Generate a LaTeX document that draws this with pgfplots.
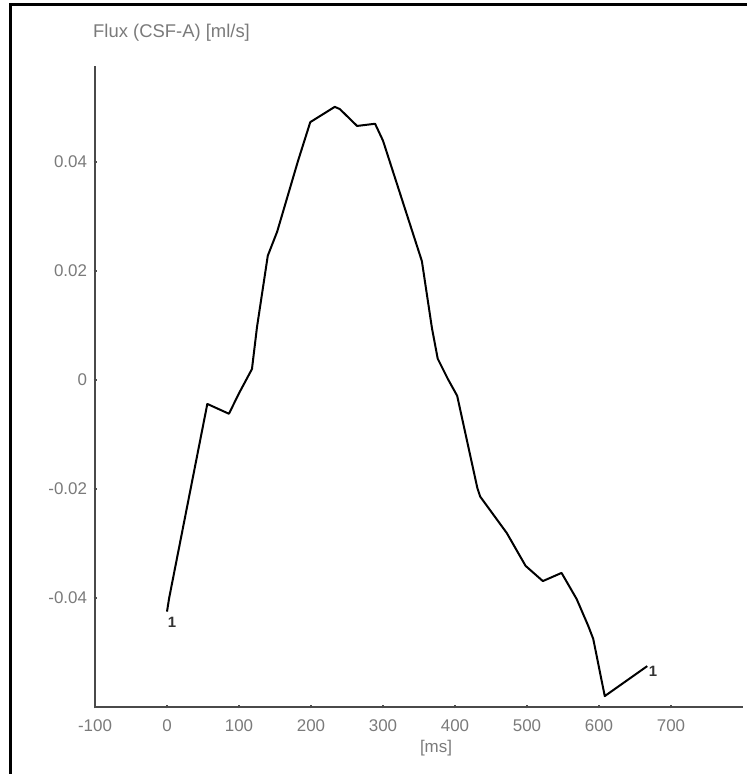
\documentclass[border=0pt]{standalone}
\usepackage{pgfplots}
\pgfplotsset{compat=1.18}
\usepackage{fontspec}
\setmainfont{Liberation Sans}
\definecolor{txtgray}{HTML}{7A7A7A}
\definecolor{axgray}{HTML}{4A4A4A}

\pgfplotstableread{
x y
0 -0.0425
3 -0.0400
56 -0.0044
86 -0.0062
101 -0.0022
118 0.0020
125 0.0097
140 0.0228
153 0.0272
182 0.0402
199 0.0473
233 0.0501
240 0.0497
264 0.0466
289 0.0470
300 0.0439
354 0.0218
368 0.0095
376 0.0039
390 0.0002
403 -0.0029
431 -0.0198
435 -0.0214
472 -0.0281
498 -0.0341
522 -0.0369
548 -0.0354
569 -0.0402
585 -0.0451
592 -0.0475
608 -0.0580
667 -0.0525
}\fluxdata

\begin{document}
\begin{tikzpicture}
\useasboundingbox (0,0) rectangle (747bp,774bp);
% frame (left and top edges only, as in the scan)
\draw[line width=3bp, black] (10bp,0) -- (10bp,769bp) -- (747bp,769bp);
\begin{axis}[
    at={(95bp,67bp)}, anchor=south west,
    scale only axis,
    width=648bp, height=641bp,
    xmin=-100, xmax=800,
    ymin=-0.06, ymax=0.0576,
    axis x line=bottom, axis y line=left,
    axis line style={-, line width=2.5bp, axgray},
    xtick={-100,0,...,700},
    ytick={-0.04,-0.02,0,0.02,0.04},
    scaled y ticks=false,
    major tick length=3bp,
    tick style={line width=2bp, axgray},
    tick align=center,
    /pgf/number format/assume math mode=true,
    yticklabel style={/pgf/number format/fixed, /pgf/number format/precision=2},
    xticklabel style={/pgf/number format/set thousands separator={}},
    ticklabel style={font=\fontsize{17}{17}\selectfont, text=txtgray},
    yticklabel shift=3bp,
    xticklabel shift=8bp,
    clip=false,
]
\addplot[black, line width=2bp, line join=round] table {\fluxdata};
\node[font=\fontsize{15}{15}\selectfont\bfseries, text=black!80] at (axis cs:7,-0.0445) {1};
\node[font=\fontsize{15}{15}\selectfont\bfseries, text=black!80] at (axis cs:675,-0.0535) {1};
\end{axis}
\node[anchor=west, font=\fontsize{18.5}{18.5}\selectfont, text=txtgray, inner sep=0] at (93bp,741bp) {Flux (CSF-A) [ml/s]};
\node[font=\fontsize{17}{17}\selectfont, text=txtgray, inner sep=0] at (436bp,26bp) {[ms]};
\end{tikzpicture}
\end{document}
